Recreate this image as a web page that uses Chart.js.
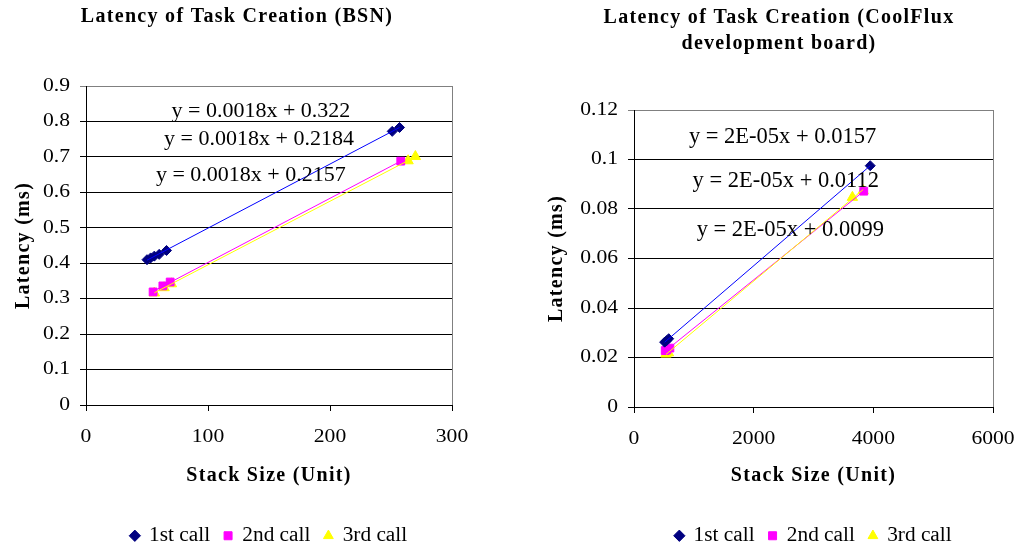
<!DOCTYPE html>
<html><head><meta charset="utf-8">
<script src="https://cdn.jsdelivr.net/npm/chart.js@4/dist/chart.umd.min.js"></script>
<style>
html,body{margin:0;padding:0;background:#fff;overflow:hidden;width:1018px;height:548px}
canvas{position:absolute;top:0}
#c1{left:0}
#c2{left:509px}
</style></head><body>
<canvas id="c1" width="509" height="556"></canvas>
<canvas id="c2" width="509" height="556"></canvas>
<script>
// ---------------- data ----------------
const seriesNames = ['1st call', '2nd call', '3rd call'];

// Chart 1: BSN
const bsnTitle = ['Latency of Task Creation (BSN)'];
const bsnX1 = [50, 53, 56, 60, 66, 251, 257];
const bsnY1 = [0.41, 0.415, 0.42, 0.425, 0.436, 0.772, 0.783];
const bsnX2 = [55, 63, 69, 258];
const bsnY2 = [0.319, 0.336, 0.347, 0.688];
const bsnX3 = [56, 64, 70, 264, 270];
const bsnY3 = [0.316, 0.331, 0.342, 0.689, 0.701];
const bsnEquations = ['y = 0.0018x + 0.322', 'y = 0.0018x + 0.2184', 'y = 0.0018x + 0.2157'];
const bsnYTicks = ['0', '0.1', '0.2', '0.3', '0.4', '0.5', '0.6', '0.7', '0.8', '0.9'];
const bsnXTicks = ['0', '100', '200', '300'];

// Chart 2: CoolFlux
const cfTitle = ['Latency of Task Creation (CoolFlux', 'development board)'];
const cfX1 = [512, 545, 580, 3948];
const cfY1 = [0.0262, 0.0268, 0.0276, 0.0975];
const cfX2 = [522, 548, 600, 3840];
const cfY2 = [0.0228, 0.0231, 0.0238, 0.0872];
const cfX3 = [535, 575, 3650, 3830];
const cfY3 = [0.0214, 0.0219, 0.0847, 0.0874];
const cfEquations = ['y = 2E-05x + 0.0157', 'y = 2E-05x + 0.0112', 'y = 2E-05x + 0.0099'];
const cfYTicks = ['0', '0.02', '0.04', '0.06', '0.08', '0.1', '0.12'];
const cfXTicks = ['0', '2000', '4000', '6000'];

const axisTitleX = 'Stack Size (Unit)';
const axisTitleY = 'Latency (ms)';

// ---------------- style ----------------
const FAMILY = "'Liberation Serif', 'Times New Roman', serif";
const markerColors = ['#000080', '#FF00FF', '#FFFF00'];
const lineColors = ['#0000FF', '#FF00FF', '#FFFF00'];
const markerStyles = ['rectRot', 'rect', 'triangle'];
const markerRadius = [5, 5.5, 6];
const TEXT_STRETCH = {'18': 1.2, '20.5': 1.04};
const BOLD_SPACING = 1.3;

Chart.defaults.font.family = FAMILY;
Chart.defaults.color = '#000';

function patchCtx(ctx) {
  const fill = ctx.fillText.bind(ctx);
  const measure = ctx.measureText.bind(ctx);
  function st() {
    const f = ctx.font;
    const m = /(\d+(?:\.\d+)?)px/.exec(f);
    const size = m ? m[1] : '';
    const bold = /bold|700/.test(f);
    return {sx: TEXT_STRETCH[size] || 1, ls: bold ? BOLD_SPACING : 0};
  }
  ctx.fillText = function (t, x, y, mw) {
    const s = st();
    ctx.save();
    ctx.letterSpacing = s.ls + 'px';
    ctx.translate(x, y);
    ctx.scale(s.sx, 1);
    if (mw === undefined) fill(t, 0, 0); else fill(t, 0, 0, mw / s.sx);
    ctx.restore();
  };
  ctx.measureText = function (t) {
    const s = st();
    const prev = ctx.letterSpacing;
    ctx.letterSpacing = s.ls + 'px';
    const m = measure(t);
    ctx.letterSpacing = prev;
    return {
      width: m.width * s.sx,
      actualBoundingBoxAscent: m.actualBoundingBoxAscent,
      actualBoundingBoxDescent: m.actualBoundingBoxDescent,
      actualBoundingBoxLeft: m.actualBoundingBoxLeft * s.sx,
      actualBoundingBoxRight: m.actualBoundingBoxRight * s.sx,
      fontBoundingBoxAscent: m.fontBoundingBoxAscent,
      fontBoundingBoxDescent: m.fontBoundingBoxDescent
    };
  };
}

function fitLine(xs, ys) {
  const n = xs.length;
  let sx = 0, sy = 0, sxx = 0, sxy = 0;
  for (let i = 0; i < n; i++) { sx += xs[i]; sy += ys[i]; sxx += xs[i] * xs[i]; sxy += xs[i] * ys[i]; }
  const m = (n * sxy - sx * sy) / (n * sxx - sx * sx);
  const b = (sy - m * sx) / n;
  const x0 = Math.min(...xs), x1 = Math.max(...xs);
  return [{x: x0, y: m * x0 + b}, {x: x1, y: m * x1 + b}];
}

function buildDatasets(xsList, ysList) {
  const ds = [];
  xsList.forEach((xs, i) => {
    ds.push({
      label: seriesNames[i],
      data: xs.map((x, k) => ({x, y: ysList[i][k]})),
      pointStyle: markerStyles[i],
      pointRadius: markerRadius[i],
      pointHoverRadius: markerRadius[i],
      backgroundColor: markerColors[i],
      borderColor: markerColors[i],
      borderWidth: 1,
      showLine: false,
      order: i
    });
  });
  xsList.forEach((xs, i) => {
    ds.push({
      label: 'trend ' + seriesNames[i],
      isTrend: true,
      data: fitLine(xs, ysList[i]),
      showLine: true,
      borderColor: lineColors[i],
      backgroundColor: lineColors[i],
      borderWidth: 1,
      pointRadius: 0,
      pointHoverRadius: 0,
      fill: false,
      order: -8 - i
    });
  });
  return ds;
}

function annotPlugin(titleLines, titleX, titleYs, eqTexts, eqPos, eqFont) {
  return {
    id: 'annot',
    afterDatasetsDraw(chart) {
      const c = chart.ctx, a = chart.chartArea;
      c.save();
      // right frame border
      c.strokeStyle = '#808080';
      c.lineWidth = 1;
      const rx = Math.round(a.right - 0.5) + 0.5;
      c.beginPath(); c.moveTo(rx, a.top); c.lineTo(rx, a.bottom); c.stroke();
      c.fillStyle = '#000';
      c.textAlign = 'center';
      c.textBaseline = 'middle';
      c.font = 'bold 20px ' + FAMILY;
      titleLines.forEach((t, i) => c.fillText(t, titleX, titleYs[i]));
      c.font = eqFont;
      const sx = chart.scales.x, sy = chart.scales.y;
      eqTexts.forEach((t, i) => c.fillText(t, sx.getPixelForValue(eqPos[i][0]), sy.getPixelForValue(eqPos[i][1])));
      c.restore();
    }
  };
}

function makeChart(id, cfg) {
  const canvas = document.getElementById(id);
  const ctx = canvas.getContext('2d');
  patchCtx(ctx);
  const tickFont = {family: FAMILY, size: 18};
  const titleFont = {family: FAMILY, size: 20, weight: 'bold', lineHeight: 1.2};
  return new Chart(ctx, {
    type: 'scatter',
    data: {datasets: buildDatasets(cfg.xs, cfg.ys)},
    plugins: [annotPlugin(cfg.title, cfg.titleX, cfg.titleYs, cfg.eq, cfg.eqPos, cfg.eqFont)],
    options: {
      responsive: false,
      animation: false,
      devicePixelRatio: 1,
      layout: {padding: cfg.padding},
      plugins: {
        tooltip: {enabled: false},
        title: {display: false},
        legend: {
          display: true,
          position: 'bottom',
          fullSize: false,
          labels: {
            usePointStyle: true,
            boxWidth: 8,
            boxHeight: 8,
            padding: 14,
            color: '#000',
            font: {family: FAMILY, size: 20.5},
            filter: (item, data) => !data.datasets[item.datasetIndex].isTrend
          }
        }
      },
      scales: {
        x: {
          type: 'linear',
          min: cfg.xMin, max: cfg.xMax,
          afterFit: (s) => { s.height = cfg.xAxisHeight; s.paddingLeft = 0; s.paddingRight = 0; },
          ticks: {
            stepSize: cfg.xStep, autoSkip: false, maxRotation: 0, padding: 15,
            font: tickFont, color: '#000',
            callback: (v, i) => cfg.xTicks[i]
          },
          grid: {drawOnChartArea: false, drawTicks: true, tickLength: 6, color: '#000', lineWidth: 1},
          border: {display: true, color: '#000', width: 1},
          title: {display: true, text: axisTitleX, font: titleFont, color: '#000', padding: {top: 0, bottom: 23.5}}
        },
        y: {
          type: 'linear',
          min: cfg.yMin, max: cfg.yMax,
          afterFit: (s) => { s.width = cfg.yAxisWidth; },
          ticks: {
            stepSize: cfg.yStep, autoSkip: false, padding: 10,
            font: tickFont, color: '#000',
            callback: (v, i) => cfg.yTicks[i]
          },
          grid: {
            drawOnChartArea: true, drawTicks: true, tickLength: 6, lineWidth: 1,
            color: (c) => (c.tick && Math.abs(c.tick.value - cfg.yMax) < 1e-9) ? '#808080' : '#000'
          },
          border: {display: true, color: '#000', width: 1},
          title: {display: true, text: axisTitleY, font: titleFont, color: '#000', padding: {top: cfg.yTitlePad, bottom: 0}}
        }
      }
    }
  });
}

makeChart('c1', {
  xs: [bsnX1, bsnX2, bsnX3], ys: [bsnY1, bsnY2, bsnY3],
  title: bsnTitle, titleX: 237, titleYs: [17],
  eq: bsnEquations, eqPos: [[143.4, 0.8296], [141.8, 0.7497], [135.1, 0.649]],
  eqFont: '22px ' + FAMILY,
  padding: {top: 86, left: 0, right: 57, bottom: 0},
  xMin: 0, xMax: 300, xStep: 100, xTicks: bsnXTicks,
  yMin: 0, yMax: 0.9, yStep: 0.1, yTicks: bsnYTicks,
  xAxisHeight: 106.5, yAxisWidth: 86, yTitlePad: 12
});

makeChart('c2', {
  xs: [cfX1, cfX2, cfX3], ys: [cfY1, cfY2, cfY3],
  title: cfTitle, titleX: 270, titleYs: [18, 44],
  eq: cfEquations, eqPos: [[2482, 0.1090], [2537, 0.0913], [2612, 0.0715]],
  eqFont: '22.5px ' + FAMILY,
  padding: {top: 110, left: 0, right: 25, bottom: 0},
  xMin: 0, xMax: 6000, xStep: 2000, xTicks: cfXTicks,
  yMin: 0, yMax: 0.12, yStep: 0.02, yTicks: cfYTicks,
  xAxisHeight: 104.5, yAxisWidth: 125, yTitlePad: 36
});
</script>
</body></html>
